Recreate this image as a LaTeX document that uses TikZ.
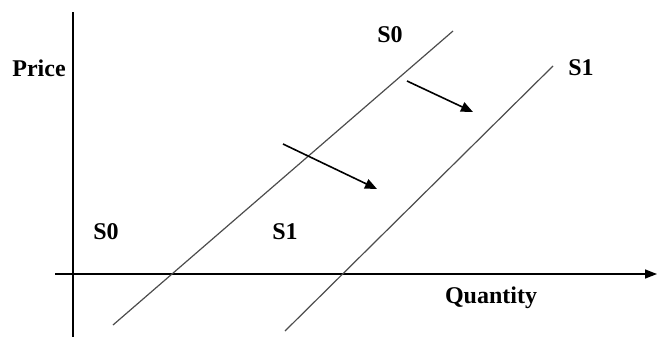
\documentclass[tikz,border=0pt]{standalone}
\usepackage{fontspec}
\setmainfont{Liberation Serif}
\usetikzlibrary{arrows.meta}

\begin{document}
\begin{tikzpicture}[x=0.5pt,y=-0.5pt,font=\fontsize{12}{14}\selectfont\bfseries,
   axis/.style={line width=0.7pt},
   supply/.style={draw=black!70,line width=0.6pt},
   shiftarr/.style={line width=0.8pt,-{Triangle[length=6pt,width=5pt]}}]
  \useasboundingbox (0,0) rectangle (657,337);
  % axes
  \coordinate (ytop) at (73,12);  \coordinate (ybot) at (73,337);
  \coordinate (xleft) at (55,274); \coordinate (xright) at (657,274);
  \draw[axis] (ytop) -- (ybot);
  \draw[axis,-{Triangle[length=6pt,width=4.5pt]}] (xleft) -- (xright);
  \node (price) at (39,68) {Price};
  \node (quantity) at (491,298) {Quantity};
  % supply curves
  \coordinate (s0a) at (113,325); \coordinate (s0b) at (453,31);
  \coordinate (s1a) at (285,331); \coordinate (s1b) at (553,66);
  \draw[supply] (s0a) -- (s0b);
  \draw[supply] (s1a) -- (s1b);
  \node (s0top) at (390,35) {S0};  \node (s1top) at (581,68) {S1};
  \node (s0low) at (106,232) {S0}; \node (s1low) at (285,232) {S1};
  % shift arrows
  \coordinate (m1) at (283,144); \coordinate (n1) at (377,189);
  \coordinate (m2) at (407,81);  \coordinate (n2) at (473,112);
  \draw[shiftarr] (m1) -- (n1);
  \draw[shiftarr] (m2) -- (n2);
\end{tikzpicture}
\end{document}
